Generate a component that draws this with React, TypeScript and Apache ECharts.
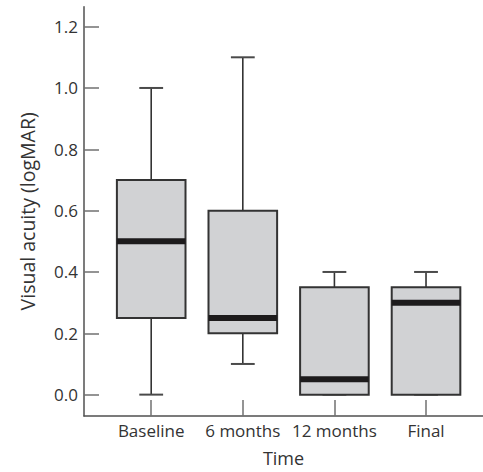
import React, { useEffect, useRef } from "react";
import * as echarts from "echarts";

const categories = ["Baseline", "6 months", "12 months", "Final"];
// [min, Q1, median, Q3, max]
const boxValues = [
  [0.0, 0.25, 0.5, 0.7, 1.0],
  [0.1, 0.2, 0.25, 0.6, 1.1],
  [0.0, 0.0, 0.05, 0.35, 0.4],
  [0.0, 0.0, 0.3, 0.35, 0.4],
];
const yTicks = [0, 0.2, 0.4, 0.6, 0.8, 1.0, 1.2];
const xTicks = [0, 1, 2, 3];

const FONT = "'Open Sans', 'DejaVu Sans', sans-serif";
const TEXT = "#333333";

export default function App() {
  const ref = useRef<HTMLDivElement>(null);
  useEffect(() => {
    document.body.style.margin = "0";
    const chart = echarts.init(ref.current!, null, { renderer: "svg" });
    const data = boxValues.map((v, i) => [i, ...v]);
    chart.setOption({
      animation: false,
      backgroundColor: "#ffffff",
      grid: { left: 84, right: 0, top: 6.7, bottom: 55.3, containLabel: false },
      xAxis: {
        type: "value",
        min: -0.7336,
        max: 3.622,
        name: "Time",
        nameLocation: "middle",
        nameGap: 33,
        nameMoveOverlap: false,
        nameTextStyle: { fontFamily: FONT, fontSize: 18, color: TEXT },
        axisLine: { show: true, onZero: false, lineStyle: { color: "#505050", width: 1.5 } },
        axisTick: {
          show: true,
          inside: true,
          length: 16,
          customValues: xTicks,
          lineStyle: { color: "#707070", width: 1.5 },
        },
        axisLabel: {
          customValues: xTicks,
          margin: 6,
          fontFamily: FONT,
          fontSize: 17,
          color: TEXT,
          formatter: (v: number) => categories[Math.round(v)] ?? "",
        },
        splitLine: { show: false },
      },
      yAxis: {
        type: "value",
        min: -0.0697,
        max: 1.265,
        name: "Visual acuity (logMAR)",
        nameLocation: "middle",
        nameGap: 47,
        nameMoveOverlap: false,
        nameTextStyle: { fontFamily: FONT, fontSize: 19.5, color: TEXT },
        axisLine: { show: true, onZero: false, lineStyle: { color: "#505050", width: 1.5 } },
        axisTick: {
          show: true,
          inside: true,
          length: 15,
          customValues: yTicks,
          lineStyle: { color: "#707070", width: 1.5 },
        },
        axisLabel: {
          customValues: yTicks,
          margin: 6,
          fontFamily: FONT,
          fontSize: 17,
          color: TEXT,
          formatter: (v: number) => v.toFixed(1),
        },
        splitLine: { show: false },
      },
      series: [
        {
          type: "custom",
          clip: false,
          encode: { x: 0, y: [1, 2, 3, 4, 5] },
          data,
          renderItem: (params: any, api: any) => {
            const x = api.value(0);
            const lo = api.coord([x, api.value(1)]);
            const q1 = api.coord([x, api.value(2)]);
            const med = api.coord([x, api.value(3)]);
            const q3 = api.coord([x, api.value(4)]);
            const hi = api.coord([x, api.value(5)]);
            const band = api.size([1, 0])[0];
            const boxW = band * 0.749;
            const capW = band * 0.26;
            const cx = lo[0];
            const whisker = { stroke: "#333333", lineWidth: 1.6 };
            const cap = { stroke: "#4a4a4a", lineWidth: 2 };
            return {
              type: "group",
              children: [
                { type: "line", shape: { x1: cx, y1: lo[1], x2: cx, y2: q1[1] }, style: whisker },
                { type: "line", shape: { x1: cx, y1: q3[1], x2: cx, y2: hi[1] }, style: whisker },
                { type: "line", shape: { x1: cx - capW / 2, y1: lo[1], x2: cx + capW / 2, y2: lo[1] }, style: cap },
                { type: "line", shape: { x1: cx - capW / 2, y1: hi[1], x2: cx + capW / 2, y2: hi[1] }, style: cap },
                {
                  type: "rect",
                  shape: { x: cx - boxW / 2, y: q3[1], width: boxW, height: q1[1] - q3[1] },
                  style: { fill: "#d1d2d4", stroke: "#333333", lineWidth: 2 },
                },
                {
                  type: "rect",
                  shape: { x: cx - boxW / 2, y: med[1] - 3, width: boxW, height: 6 },
                  style: { fill: "#1d1b1c" },
                },
              ],
            };
          },
        },
      ],
    });
    return () => chart.dispose();
  }, []);
  return <div ref={ref} style={{ width: 483, height: 472 }} />;
}
